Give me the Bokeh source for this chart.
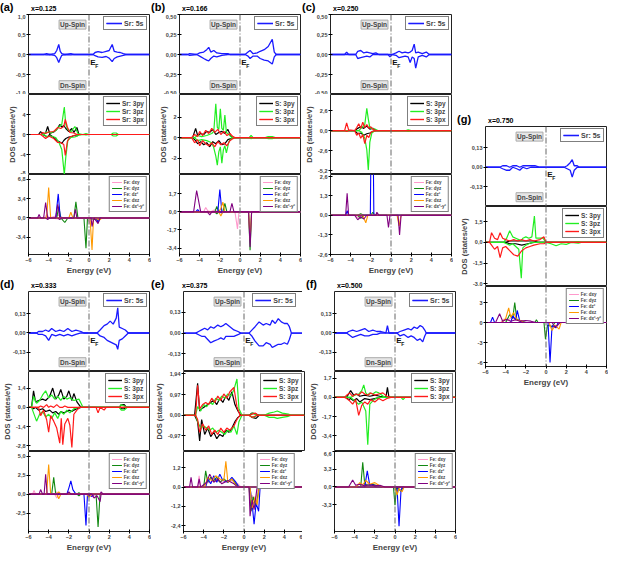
from bokeh.plotting import figure
from bokeh.layouts import column, row, Spacer
from bokeh.models import (Div, Span, Label, Legend, LegendItem, FixedTicker,
                          CustomJSTickFormatter, Range1d)
from bokeh.embed import file_html
from bokeh.resources import INLINE

# ---------------- data: (energy eV, spin-up DOS, spin-down DOS) ----------------
# panel (a) x=0.125
A_SR5S = [(-6,0,0),(-4.5,0,0),(-4.2,0.02,-0.01),(-3.9,0,0),(-3.4,0.02,-0.02),(-3.2,0.1,-0.08),(-3.0,0.25,-0.2),(-2.85,0.08,-0.1),(-2.7,0.02,-0.02),(-2.4,0,0),(-1.8,0.02,-0.01),(-1.5,0,0),(0.4,0,0),(0.6,0.05,-0.03),(0.9,0.07,-0.06),(1.3,0.05,-0.07),(1.7,0.08,-0.05),(2.0,0.1,-0.09),(2.3,0.25,-0.18),(2.5,0.08,-0.1),(2.8,0.06,-0.06),(3.1,0.05,-0.04),(3.4,0.02,-0.02),(3.7,0,0),(6,0,0)]
A_PY = [(-6,0,0),(-5.0,0,0),(-4.8,0.6,0),(-4.6,0,0),(-4.3,0.3,-0.3),(-4.1,1.6,-0.5),(-3.9,0.2,0),(-3.5,0.5,-0.6),(-3.2,1.0,-1.2),(-2.9,2.0,-1.5),(-2.7,1.5,-1.8),(-2.5,1.8,-1.2),(-2.3,1.2,-0.8),(-2.0,0.6,-0.5),(-1.7,1.2,-0.4),(-1.5,0.4,-0.2),(-1.2,1.4,-0.3),(-1.0,0,0),(6,0,0)]
A_PZ = [(-6,0,0),(-4.5,0,0),(-4.2,0.5,-0.4),(-3.8,0.3,-0.3),(-3.3,0.8,-0.6),(-3.0,1.5,-1.5),(-2.7,2.0,-3.0),(-2.45,5.5,-8.0),(-2.3,2.0,-4.5),(-2.1,1.0,-1.2),(-1.8,0.5,-0.6),(-1.4,1.6,-0.5),(-1.1,0.2,-0.2),(-0.6,0,0),(-0.3,0.2,-0.1),(0,0,0),(2.2,0,0),(2.4,0.3,-0.3),(2.7,0.3,-0.3),(2.9,0,0),(6,0,0)]
A_PX = [(-6,0,0),(-4.8,0,0),(-4.6,0.4,-0.3),(-4.3,0.2,-0.8),(-4.0,0.5,-0.3),(-3.5,0.6,-0.8),(-3.1,1.4,-1.6),(-2.8,1.2,-1.6),(-2.5,1.6,-2.0),(-2.35,3.0,-4.2),(-2.15,1.5,-1.4),(-1.9,0.4,-0.5),(-1.5,0.3,-0.2),(-1.2,0,0),(6,0,0)]
A_DXY = [(-6,0,0),(-4.4,0,0),(-4.2,0.6,0),(-3.9,0,0),(-3.0,0.5,-0.2),(-2.6,0,0),(-0.2,0,0),(0.2,0,-1.2),(0.5,0,0),(6,0,0)]
A_DYZ = [(-6,0,0),(-3.2,0,0),(-3.0,2.0,0),(-2.8,0,0),(-2.4,0,-0.8),(-2.1,0,0),(-1.5,0,0),(-1.3,2.8,0),(-1.1,0,0),(-0.5,0,0),(-0.3,0,-5.3),(-0.15,0,0),(0.9,0,-0.4),(1.1,0,0),(6,0,0)]
A_DZ2 = [(-6,0,0),(-3.3,0,0),(-3.05,4.2,0),(-2.85,0,0),(0.7,0,0),(0.9,0,-0.8),(1.1,0,0),(6,0,0)]
A_DXZ = [(-6,0,0),(-4.2,0,0),(-4.0,5.3,0),(-3.8,0,0),(-2.0,0,0),(-1.8,1.0,0),(-1.6,0,0),(0.1,0,0),(0.3,0,-5.6),(0.45,0,0),(1.1,0,-0.3),(1.3,0,0),(6,0,0)]
A_DX2 = [(-6,0,0),(-5.1,0,0),(-4.95,0.6,0),(-4.8,0,0),(-4.5,0,0),(-4.3,2.7,0),(-4.1,0,-0.3),(-3.9,0,0),(-3.3,0,0),(-3.1,2.4,0),(-2.9,0,-0.3),(-2.7,0,0),(-1.5,0,0),(-1.35,1.5,0),(-1.2,0,0),(0.2,0,0),(0.3,0,-1.5),(0.5,0,0),(0.9,0,-1.0),(1.1,0,0),(6,0,0)]

# panel (b) x=0.166
B_SR5S = [(-6,0,0),(-5.2,0,0),(-5.0,0.01,-0.01),(-4.3,0,0),(-4.0,0.02,-0.02),(-3.6,0.03,-0.05),(-3.3,0.06,-0.07),(-3.1,0.09,-0.08),(-2.9,0.03,-0.05),(-2.6,0.05,-0.02),(-2.3,0.02,-0.03),(-1.8,0.01,-0.01),(-1.2,0.01,0),(-1.0,0,0),(0.5,0,0),(0.8,0.03,-0.02),(1.0,0.05,-0.05),(1.3,0.01,-0.02),(1.7,0.02,-0.02),(2.0,0.04,-0.05),(2.4,0.06,-0.07),(2.8,0.1,-0.08),(3.2,0.19,-0.12),(3.4,0.03,-0.03),(3.6,0,0),(6,0,0)]
B_PY = [(-6,0,0),(-4.7,0,0),(-4.4,0.9,-0.3),(-4.2,0.2,-0.6),(-3.9,0.4,-0.4),(-3.6,0.3,-0.7),(-3.3,0.6,-0.5),(-3.0,0.5,-0.9),(-2.7,0.8,-0.4),(-2.4,0.3,-0.6),(-2.1,0.5,-0.3),(-1.8,0.6,-0.7),(-1.5,0.4,-0.6),(-1.2,0.8,-0.2),(-0.9,0.1,-0.1),(-0.6,0,0),(6,0,0)]
B_PZ = [(-6,0,0),(-4.5,0,0),(-4.2,0.2,-0.3),(-3.8,0.1,-0.2),(-3.3,0.2,-0.3),(-2.8,0.4,-0.5),(-2.6,0.6,-1.0),(-2.4,3.3,-1.8),(-2.25,1.0,-2.7),(-2.1,0.8,-1.4),(-1.95,2.8,-0.9),(-1.8,0.9,-2.5),(-1.65,0.7,-1.2),(-1.5,2.2,-0.8),(-1.35,0.5,-1.5),(-1.1,0.3,-0.4),(-0.8,0,0),(0.9,0,0),(1.1,0.2,-0.1),(1.3,0,0),(2.5,0,0),(2.8,0.1,-0.1),(3.2,0.1,-0.1),(3.5,0,0),(6,0,0)]
B_PX = [(-6,0,0),(-4.8,0,0),(-4.5,0.3,-0.5),(-4.2,0.1,-0.2),(-4.0,0.6,-0.8),(-3.7,0.2,-0.3),(-3.4,0.7,-0.6),(-3.1,0.4,-0.8),(-2.8,0.9,-0.5),(-2.5,0.5,-0.9),(-2.2,0.8,-0.4),(-1.9,0.3,-0.7),(-1.6,0.6,-0.5),(-1.3,0.2,-0.8),(-1.0,0.4,-0.3),(-0.7,0.1,-0.1),(-0.5,0,0),(6,0,0)]
B_DXY = [(-6,0,0),(-3.6,0,0),(-3.4,0.4,0),(-3.2,0.1,-0.1),(-2.9,0,0),(-2.5,0.2,0),(-2.2,0,0),(-0.5,0,0),(-0.25,0,-1.6),(-0.1,0,0),(6,0,0)]
B_DYZ = [(-6,0,0),(-2.5,0,0),(-2.3,0.5,-0.2),(-2.1,0,0),(-1.7,0,0),(-1.5,0.8,0),(-1.3,0,0),(0.85,0,0),(1.0,0,-3.6),(1.15,0,0),(6,0,0)]
B_DZ2 = [(-6,0,0),(-4.4,0,0),(-4.2,0.2,0),(-4.0,0,0),(-2.2,0,0),(-2.0,2.1,0),(-1.8,0,-0.1),(-1.6,0,0),(6,0,0)]
B_DXZ = [(-6,0,0),(-2.1,0,0),(-1.9,0.3,-0.4),(-1.7,0.9,0),(-1.5,0,0),(0.85,0,0),(1.0,0,-2.6),(1.15,0,0),(6,0,0)]
B_DX2 = [(-6,0,0),(-4.6,0,0),(-4.3,2.0,0),(-4.1,1.0,0),(-3.9,0,0),(-3.2,0,0),(-3.0,0,-0.3),(-2.8,0,0),(-1.0,0,0),(-0.8,0.8,0),(-0.6,0,0),(0.85,0,0),(1.0,0,-3.3),(1.15,0,0),(6,0,0)]

# panel (c) x=0.250
C_SR5S = [(-6,0,0),(-4.6,0,0),(-4.4,0.03,0),(-4.2,0,0),(-3.5,0,0),(-3.3,0.04,-0.05),(-3.0,0.05,-0.04),(-2.7,0.02,-0.03),(-2.4,0.03,-0.02),(-2.1,0.02,-0.03),(-1.8,0.01,0),(-1.5,0.02,0),(-1.2,0,0),(-0.3,0,0),(-0.1,0,-0.03),(0.1,0,0),(0.5,0.02,-0.01),(0.8,0.04,-0.04),(1.1,0.02,-0.03),(1.4,0.03,-0.02),(1.7,0.02,-0.03),(1.9,0.03,-0.1),(2.1,0.05,-0.03),(2.3,0.13,-0.05),(2.45,0.02,-0.17),(2.7,0.03,-0.03),(3.1,0.01,-0.01),(3.5,0.03,-0.03),(3.8,0,0),(6,0,0)]
C_PY = [(-6,0,0),(-3.6,0,0),(-3.3,0.3,-0.4),(-3.0,0.5,-0.3),(-2.7,0.3,-0.6),(-2.4,0.6,-0.4),(-2.1,0.2,-0.3),(-1.8,0.3,-0.1),(-1.5,0,0),(6,0,0)]
C_PZ = [(-6,0,0),(-3.2,0,0),(-2.9,0.4,-0.2),(-2.6,0.8,-1.0),(-2.4,2.9,-2.5),(-2.25,1.5,-5.1),(-2.1,0.4,-1.5),(-1.9,0.3,-0.3),(-1.6,0.2,0),(-1.3,0,0),(1.5,0,0),(1.7,0.1,-0.1),(2.0,0,0),(6,0,0)]
C_PX = [(-6,0,0),(-4.6,0,0),(-4.4,1.0,-0.1),(-4.2,0.1,0),(-3.6,0,0),(-3.4,0.4,-0.6),(-3.2,0.9,-0.3),(-3.0,0.3,-1.0),(-2.8,1.1,-0.5),(-2.6,0.4,-1.7),(-2.4,0.8,-0.6),(-2.2,0.3,-0.9),(-2.0,0.5,-0.2),(-1.8,0.2,-0.1),(-1.5,0,0),(6,0,0)]
C_DXY = [(-6,0,0),(-3.5,0,0),(-3.2,0,-0.2),(-2.9,0,0),(6,0,0)]
C_DYZ = [(-6,0,0),(-3.3,0,0),(-3.0,0.1,-0.2),(-2.7,0,0),(-2.0,0,0),(-1.8,0.2,0),(-1.6,0,0),(6,0,0)]
C_DZ2 = [(-6,0,0),(-4.5,0,0),(-4.35,0.3,0),(-4.2,0,0),(-2.05,0,0),(-2.0,3.5,0),(-1.75,3.5,0),(-1.7,0,0),(6,0,0)]
C_DXZ = [(-6,0,0),(-2.8,0,0),(-2.5,0,-0.5),(-2.3,0,0),(0.6,0,0),(0.8,0,-0.7),(1.0,0,0),(6,0,0)]
C_DX2 = [(-6,0,0),(-4.5,0,0),(-4.35,1.45,0),(-4.2,0,0),(-3.6,0,0),(-3.3,0,-0.3),(-3.0,0,-0.1),(-2.7,0,-0.25),(-2.4,0,0),(-1.5,0,0),(-1.4,0.2,0),(-1.2,0,0),(-0.4,0,0),(-0.25,0,-0.8),(-0.1,0,0),(0.7,0,0),(0.85,0,-1.3),(1.0,0,0),(6,0,0)]

# panel (d) x=0.333
D_SR5S = [(-6,0,0),(-5.2,0,0),(-5.0,0.01,-0.01),(-4.6,0.01,-0.01),(-4.3,0.02,-0.02),(-4.0,0.01,-0.05),(-3.7,0.03,-0.01),(-3.3,0.01,-0.02),(-2.9,0.02,-0.01),(-2.5,0.01,-0.02),(-2.1,0.03,-0.01),(-1.7,0.01,-0.02),(-1.3,0.02,-0.01),(-0.8,0.01,0),(-0.5,0,0),(0.8,0,0),(1.1,0.02,-0.02),(1.5,0.05,-0.03),(1.8,0.06,-0.05),(2.1,0.08,-0.06),(2.4,0.06,-0.07),(2.7,0.1,-0.08),(2.85,0.17,-0.11),(3.0,0.04,-0.05),(3.3,0.03,-0.04),(3.6,0.02,-0.02),(3.9,0,0),(6,0,0)]
D_PY = [(-6,0,0),(-5.7,0,0),(-5.5,1.2,-0.1),(-5.3,0.4,0),(-5.0,0.5,-0.2),(-4.6,0.6,-0.1),(-4.3,0.5,-0.3),(-3.9,0.8,-0.2),(-3.6,1.4,-0.4),(-3.3,0.6,-0.3),(-3.0,0.9,-0.5),(-2.8,1.3,-0.3),(-2.5,0.6,-0.4),(-2.2,0.8,-0.3),(-2.0,1.2,-0.2),(-1.7,0.5,-0.3),(-1.5,1.0,-0.2),(-1.2,0.4,-0.1),(-0.8,0,0),(3.0,0,0),(3.2,0.2,-0.1),(3.5,0.2,-0.1),(3.7,0,0),(6,0,0)]
D_PZ = [(-6,0,0),(-5.7,0,0),(-5.5,0.8,-0.4),(-5.2,0.3,-1.0),(-4.9,0.5,-0.5),(-4.6,0.9,-0.3),(-4.3,1.2,-0.7),(-4.0,0.7,-0.5),(-3.7,0.9,-0.8),(-3.4,0.6,-0.4),(-3.1,0.8,-0.8),(-2.8,0.5,-0.3),(-2.5,0.8,-0.5),(-2.2,0.6,-0.2),(-1.9,0.7,-0.4),(-1.5,0.5,-0.1),(-1.0,0.6,0),(-0.6,0,0),(3.0,0,0),(3.2,0.2,-0.2),(3.5,0.1,-0.2),(3.8,0,0),(6,0,0)]
D_PX = [(-6,0,0),(-5.0,0,0),(-4.8,0.1,-0.6),(-4.5,0,-0.2),(-4.2,0.2,-0.9),(-4.0,0,-1.8),(-3.8,0.1,-0.6),(-3.5,0,-1.0),(-3.2,0.2,-1.5),(-2.9,0,-2.6),(-2.75,0,-0.8),(-2.6,0,-2.7),(-2.4,0.1,-1.2),(-2.1,0,-0.8),(-1.9,0,-1.3),(-1.7,0,-2.9),(-1.5,0,-0.5),(-1.2,0,-0.2),(-0.9,0,0),(0.7,0,0),(0.9,0,-0.4),(1.1,0,0),(1.5,0,-0.2),(1.7,0,0),(6,0,0)]
D_DXY = [(-6,0,0),(-5.6,0,0),(-5.45,0.5,0),(-5.3,0,0),(-3.4,0,0),(-3.2,0.3,-0.5),(-3.0,0,0),(0.2,0,0),(0.4,0,-0.4),(0.6,0,0),(6,0,0)]
D_DYZ = [(-6,0,0),(-3.7,0,0),(-3.5,2.2,0),(-3.3,0,0),(-1.2,0,0),(-1.0,0.2,-0.2),(-0.8,0,0),(0.7,0,0),(0.9,0,-4.3),(1.1,0,0),(6,0,0)]
D_DZ2 = [(-6,0,0),(-2.2,0,0),(-2.0,0.8,0),(-1.8,1.75,0),(-1.6,0.6,0),(-1.3,0,0),(-0.5,0,0),(-0.3,0,-4.1),(-0.15,0,0),(0.3,0,-0.3),(0.5,0,0),(6,0,0)]
D_DXZ = [(-6,0,0),(-4.2,0,0),(-4.0,3.9,0),(-3.8,0,0),(-3.2,0,0),(-3.0,0.3,-0.6),(-2.8,0,0),(-0.2,0,0),(0.0,0,-0.4),(0.3,0,0),(6,0,0)]
D_DX2 = [(-6,0,0),(-4.95,0,0),(-4.8,0.6,0),(-4.6,0,0),(-4.45,0,0),(-4.3,2.6,0),(-4.15,0,0),(-2.2,0,0),(-2.0,0.3,0),(-1.8,0,0),(0.3,0,0),(0.5,0,-0.5),(0.8,0,-0.2),(1.1,0,-1.0),(1.2,0.3,0),(1.4,0,0),(6,0,0)]

# panel (e) x=0.375
E_SR5S = [(-6,0,0),(-4.8,0,0),(-4.5,0.01,-0.01),(-4.2,0.02,-0.02),(-3.9,0.03,-0.02),(-3.6,0.02,-0.04),(-3.3,0.04,-0.06),(-3.0,0.03,-0.05),(-2.6,0.05,-0.04),(-2.3,0.04,-0.03),(-2.0,0.05,-0.04),(-1.8,0.06,-0.02),(-1.4,0.04,-0.02),(-1.0,0.02,-0.02),(-0.6,0.01,-0.01),(-0.3,0,0),(0.5,0,0),(0.8,0.02,-0.02),(1.1,0.04,-0.05),(1.5,0.07,-0.08),(1.9,0.05,-0.08),(2.2,0.06,-0.06),(2.6,0.05,-0.07),(2.8,0.08,-0.09),(3.1,0.06,-0.08),(3.4,0.09,-0.07),(3.7,0.07,-0.07),(4.0,0.06,-0.06),(4.3,0.06,-0.07),(4.5,0.04,-0.04),(4.7,0,0),(6,0,0)]
E_PY = [(-6,0,0),(-4.9,0,0),(-4.6,1.5,-0.3),(-4.4,0.2,-1.2),(-4.2,0.3,-0.2),(-3.9,0.4,-0.9),(-3.6,0.5,-0.6),(-3.3,0.6,-1.0),(-3.0,0.7,-0.8),(-2.7,0.5,-1.1),(-2.4,0.8,-0.9),(-2.1,0.6,-1.0),(-1.8,0.9,-0.7),(-1.5,0.7,-0.8),(-1.2,1.1,-0.6),(-0.9,0.5,-0.3),(-0.6,0.2,-0.1),(-0.3,0,0),(0.5,0,0),(0.8,0.1,-0.1),(1.2,0.05,-0.15),(1.5,0,0),(6,0,0)]
E_PZ = [(-6,0,0),(-4.8,0,0),(-4.6,0.4,-0.3),(-4.3,0.2,-0.6),(-4.0,0.5,-0.5),(-3.7,0.4,-0.6),(-3.4,0.6,-0.7),(-3.1,0.5,-0.6),(-2.8,0.8,-0.8),(-2.5,0.7,-0.7),(-2.2,0.9,-0.8),(-1.9,0.8,-0.9),(-1.6,1.0,-0.7),(-1.3,0.9,-0.8),(-1.0,1.2,-0.5),(-0.7,1.7,-0.9),(-0.5,0.3,-0.3),(-0.2,0,0),(0.5,0,0),(0.9,0.1,-0.1),(1.3,0,0),(2.0,0,0),(2.5,0.1,-0.1),(3.0,0.15,-0.1),(3.3,0.2,-0.15),(3.8,0.1,-0.1),(4.4,0.05,-0.05),(4.7,0,0),(6,0,0)]
E_PX = [(-6,0,0),(-4.8,0,0),(-4.6,1.4,-0.2),(-4.4,0.3,-0.8),(-4.1,0.5,-0.4),(-3.8,0.6,-0.7),(-3.5,0.5,-0.5),(-3.2,0.8,-0.9),(-2.9,0.6,-0.7),(-2.6,0.9,-0.9),(-2.3,0.7,-0.6),(-2.0,1.0,-0.8),(-1.7,0.8,-0.6),(-1.4,1.1,-0.7),(-1.0,1.3,-0.5),(-0.7,0.4,-0.2),(-0.4,0,0),(0.5,0,0),(0.8,0.05,-0.1),(1.1,0.1,-0.05),(1.4,0,0),(6,0,0)]
E_DXY = [(-6,0,0),(-4.6,0,0),(-4.45,0.7,0),(-4.3,0,0),(-3.5,0.3,0),(-2.8,0.4,0),(-2.0,0.3,0),(-1.2,0.4,0),(-0.6,0.2,0),(-0.3,0,0),(0.5,0,0),(0.6,0,-1.2),(0.8,0,-0.5),(1.1,0,-1.0),(1.4,0,0),(6,0,0)]
E_DYZ = [(-6,0,0),(-4.0,0,0),(-3.8,1.0,0),(-3.6,0.3,0),(-3.3,0.6,0),(-3.0,0.4,0),(-2.7,0.6,0),(-2.4,0.3,0),(-2.0,0.5,0),(-1.6,0.3,0),(-1.2,0.5,0),(-0.8,0.2,0),(-0.5,0,0),(0.5,0,0),(0.7,0,-1.5),(0.9,0,-0.6),(1.2,0,-1.2),(1.5,0,0),(6,0,0)]
E_DZ2 = [(-6,0,0),(-3.8,0,0),(-3.6,0.5,0),(-3.3,0.2,0),(-3.0,0.7,0),(-2.7,0.3,0),(-2.4,0.8,0),(-2.1,0.4,0),(-1.6,0.3,0),(-1.2,0.6,0),(-0.8,0.3,0),(-0.5,0,0),(0.6,0,0),(0.8,0,-1.0),(1.0,0,-2.3),(1.2,0,-1.0),(1.45,0,-1.5),(1.6,0,0),(6,0,0)]
E_DXZ = [(-6,0,0),(-3.9,0,0),(-3.6,0.6,0),(-3.2,0.4,0),(-2.8,0.7,0),(-2.4,0.5,0),(-2.0,0.4,0),(-1.8,1.6,0),(-1.6,0.3,0),(-1.2,0.5,0),(-0.9,0.2,0),(-0.6,0,0),(0.6,0,0),(0.8,0,-1.3),(1.1,0,-0.6),(1.3,0,-1.1),(1.5,0,0),(6,0,0)]
E_DX2 = [(-6,0,0),(-5.4,0,0),(-5.25,0.6,0),(-5.1,0,0),(-4.6,0,0),(-4.45,0.5,0),(-4.3,0,0),(-3.7,0.3,0),(-3.4,0.8,0),(-3.0,0.3,0),(-2.6,0.5,0),(-2.2,0.2,0),(-1.6,0.4,0),(-1.0,0.2,0),(-0.6,0,0),(0.5,0,0),(0.6,0,-1.8),(0.8,0,-0.8),(1.0,0,-1.4),(1.3,0,0),(6,0,0)]

# panel (f) x=0.500
F_SR5S = [(-6,0,0),(-4.8,0,0),(-4.6,0.01,-0.01),(-4.2,0.02,-0.03),(-3.8,0.01,-0.02),(-3.4,0.02,-0.01),(-3.0,0.03,-0.02),(-2.6,0.01,-0.02),(-2.2,0.02,-0.01),(-1.8,0.01,-0.01),(-1.4,0.01,0),(-0.9,0,0),(-0.75,0.05,0),(-0.6,0,0),(0.2,0,0),(0.5,0.01,-0.02),(0.9,0.02,-0.01),(1.3,0.03,-0.03),(1.6,0.02,-0.02),(1.9,0.04,-0.03),(2.2,0.03,-0.05),(2.5,0.05,-0.04),(2.75,0.04,-0.06),(2.95,0.02,-0.02),(3.1,0,0),(6,0,0)]
F_PY = [(-6,0,0),(-4.8,0,0),(-4.6,0.3,-0.2),(-4.4,0.6,-0.1),(-4.1,0.2,-0.3),(-3.8,0.3,-0.1),(-3.5,0.1,-0.4),(-3.0,0.2,-0.1),(-2.5,0.1,-0.2),(-2.0,0.2,-0.1),(-1.5,0.1,0),(-0.9,0,0),(-0.75,0.9,0),(-0.6,0,0),(6,0,0)]
F_PZ = [(-6,0,0),(-4.4,0,0),(-4.0,0.2,-0.3),(-3.6,0.3,-0.6),(-3.3,0.6,-0.4),(-3.1,1.1,-0.8),(-2.9,0.4,-1.2),(-2.7,0.2,-4.2),(-2.5,0.4,-0.6),(-2.2,0.3,-0.3),(-1.9,0.5,-0.1),(-1.6,0.4,0),(-1.3,0.2,0),(-1.0,0,0),(0.6,0,0),(0.8,0,-0.2),(1.0,0,0),(6,0,0)]
F_PX = [(-6,0,0),(-5.0,0,0),(-4.8,0.2,-0.1),(-4.5,0.4,-0.3),(-4.2,0.1,-0.6),(-3.9,0.3,-0.2),(-3.6,0.2,-1.6),(-3.3,0.5,-0.7),(-3.0,0.3,-0.4),(-2.7,0.2,-0.6),(-2.4,0.4,-0.2),(-2.0,0.2,-0.4),(-1.6,0.3,-0.1),(-1.2,0.4,-0.3),(-0.8,0.1,-0.1),(-0.4,0,0),(6,0,0)]
F_DXY = [(-6,0,0),(-4.0,0,0),(-3.7,0.5,0),(-3.3,0.3,0),(-2.8,0.6,0),(-2.3,0.3,0),(-1.8,0.4,0),(-1.3,0,0),(0,0,0),(0.2,0,-0.8),(0.5,0,0),(6,0,0)]
F_DYZ = [(-6,0,0),(-3.4,0,0),(-3.2,4.6,0),(-3.0,0.5,0),(-2.6,0.3,0),(-2.2,0.5,0),(-1.8,0.2,0),(-1.4,0,0),(-0.15,0,0),(0.0,0,-3.4),(0.15,0,0),(0.6,0,-0.8),(0.8,0,0),(6,0,0)]
F_DZ2 = [(-6,0,0),(-3.0,0,0),(-2.75,3.0,0),(-2.5,0.3,0),(-2.2,0.4,0),(-1.9,0,0),(0.2,0,0),(0.4,0,-7.3),(0.6,0,-0.5),(0.8,0,0),(6,0,0)]
F_DXZ = [(-6,0,0),(-3.8,0,0),(-3.5,0.8,0),(-3.2,0.4,0),(-2.9,1.2,0),(-2.5,0.5,0),(-2.0,0.8,0),(-1.6,0.3,0),(-1.2,0,0),(0.0,0,0),(0.2,0,-1.5),(0.4,0,-0.3),(0.7,0,-0.9),(0.9,0,0),(6,0,0)]
F_DX2 = [(-6,0,0),(-4.6,0,0),(-4.2,1.3,0),(-3.9,0.3,0),(-3.5,0.5,0),(-3.0,0.2,0),(-2.5,0.4,0),(-2.0,0.2,0),(-1.5,0.3,0),(-1.0,0,0),(6,0,0)]

# panel (g) x=0.750
G_SR5S = [(-6,0,0),(-4.6,0,0),(-4.3,0.01,-0.01),(-3.9,0.01,-0.02),(-3.6,0,-0.02),(-3.3,0.01,0),(-2.9,0.01,-0.01),(-2.6,0,-0.02),(-2.3,0.01,0),(-1.9,0.01,-0.01),(-1.5,0.01,0),(-1.1,0.01,0),(-0.6,0,0),(1.8,0,0),(2.1,0.01,-0.01),(2.4,0.03,-0.02),(2.6,0.05,-0.065),(2.8,0.01,-0.02),(3.1,0.01,0),(3.3,0,0),(6,0,0)]
G_PY = [(-6,0,0),(-4.0,0,0),(-3.6,0.1,-0.1),(-3.0,0.1,-0.1),(-2.4,0.1,-0.2),(-1.8,0.1,-0.1),(-1.2,0.1,0),(-0.8,0,0),(6,0,0)]
G_PZ = [(-6,0,0),(-4.2,0,0),(-3.9,0.3,-0.1),(-3.6,0.85,-0.2),(-3.3,0.4,-0.1),(-3.0,0.3,-0.3),(-2.7,0.2,-0.5),(-2.45,0.1,-2.6),(-2.3,0.3,-0.4),(-2.0,0.4,-0.2),(-1.7,0.3,-0.1),(-1.4,0.4,0),(-1.15,1.9,0),(-1.0,0.3,0),(-0.6,0.3,0),(-0.3,0.3,0),(0,0,0),(0.5,0,-0.1),(1.0,0,-0.25),(1.5,0,-0.1),(2.0,0,-0.15),(2.5,0,0),(3.2,0.05,-0.05),(3.5,0,0),(6,0,0)]
G_PX = [(-6,0,0),(-5.6,0,0),(-5.4,0.7,-0.2),(-5.1,0.3,-0.5),(-4.8,0.2,-0.3),(-4.55,0.7,-1.1),(-4.3,0.3,-0.4),(-4.0,0.2,-0.3),(-3.6,0.1,-0.6),(-3.2,0.2,-0.9),(-2.8,0.1,-1.0),(-2.4,0.2,-0.6),(-2.0,0.1,-0.4),(-1.6,0.2,-0.3),(-1.2,0.1,-0.2),(-0.6,0.2,-0.1),(-0.2,0.4,-0.1),(0,0,0),(6,0,0)]
G_DXY = [(-6,0,0),(-4.5,0,0),(-4.2,0.5,0),(-3.8,0.3,0),(-3.4,0.8,0),(-3.0,0.4,0),(-2.5,0.3,0),(-2.0,0,0),(0.2,0,0),(0.5,0,-0.6),(1.0,0,-0.8),(1.4,0,0),(6,0,0)]
G_DYZ = [(-6,0,0),(-4.0,0,0),(-3.6,1.2,0),(-3.3,0.6,0),(-3.1,3.0,0),(-2.9,0.5,0),(-2.6,0.3,0),(-2.0,0,0),(-1.1,0,0),(-0.95,0.4,0),(-0.8,0,0),(-0.2,0,0),(-0.05,0,-2.5),(0.15,0,-0.4),(0.6,0,-0.6),(0.9,0,0),(6,0,0)]
G_DZ2 = [(-6,0,0),(-5.5,0,0),(-5.3,0.8,0),(-5.1,0,0),(-3.5,0,0),(-3.3,1.0,0),(-3.0,0.4,0),(-2.85,1.8,0),(-2.6,0.2,0),(-2.3,0,0),(0.2,0,0),(0.4,0,-6.0),(0.6,0,-0.5),(1.0,0,-0.8),(1.2,0,0),(6,0,0)]
G_DXZ = [(-6,0,0),(-4.4,0,0),(-4.0,0.6,0),(-3.7,2.2,0),(-3.5,0.8,0),(-3.2,1.5,0),(-2.9,0.4,0),(-2.5,0.3,0),(-2.2,0,0),(0.3,0,0),(0.6,0,-1.2),(0.9,0,-0.4),(1.3,0,-1.0),(1.5,0,0),(6,0,0)]
G_DX2 = [(-6,0,0),(-5.0,0,0),(-4.6,1.3,0),(-4.3,0.2,0),(-3.9,0.5,0),(-3.5,0.2,0),(-3.0,0.4,0),(-2.6,0.2,0),(-2.0,0.3,0),(-1.5,0.2,0),(-1.0,0,0),(0.6,0,0),(0.9,0,-0.7),(1.2,0,-0.3),(1.4,0,0),(6,0,0)]

# axis ranges / tick values per panel (sub1, sub2, sub3)
X_TICKS = [-6, -4, -2, 0, 2, 4, 6]
A_Y = [(-1.0, 1.0), (-8, 8), (-6.4, 7.6)]
A_T = [[-1, -0.5, 0, 0.5, 1], [-8, -4, 0, 4], [-3.4, 0, 3.4, 6.8]]
B_Y = [(-0.5, 0.5), (-3.6, 4.2), (-4.0, 3.5)]
B_T = [[-0.5, -0.25, 0, 0.25, 0.5], [-2, 0, 2], [-3.4, -1.7, 0, 1.7]]
C_Y = [(-0.5, 0.5), (-5.7, 4.7), (-2.6, 2.7)]
C_T = [[-0.5, -0.25, 0, 0.25, 0.5], [-5.2, -2.6, 0, 2.6], [-2.6, -1.3, 0, 1.3, 2.6]]
D_Y = [(-0.26, 0.28), (-3.2, 2.6), (-4.9, 5.6)]
D_T = [[-0.13, 0, 0.13], [-2.8, -1.4, 0, 1.4], [-2.5, 0, 2.5, 5.0]]
E_Y = [(-0.24, 0.26), (-1.7, 2.05), (-2.75, 2.2)]
E_T = [[-0.13, 0, 0.13], [-0.97, 0, 0.97, 1.94], [-2.4, -1.2, 0, 1.2]]
F_Y = [(-0.26, 0.28), (-4.8, 2.3), (-8.3, 6.6)]
F_T = [[-0.13, 0, 0.13], [-3.4, -1.7, 0, 1.7], [-3.3, 0, 3.3, 6.6]]
G_Y = [(-0.26, 0.27), (-3.2, 2.6), (-6.6, 5.4)]
G_T = [[-0.13, 0, 0.13], [-3.0, -1.5, 0, 1.5], [-6, -3, 0, 3]]

D_LABELS = ["Fe: dxy", "Fe: dyz", "Fe: dz\u00b2", "Fe: dxz", "Fe: dx\u00b2-y\u00b2"]

# ---------------- styling ----------------
FONT = "Liberation Sans"
W, H, L, R, T, B = 121, 80, 28, 2, 14, 22
C_BLUE = "#1a1aff"
P_COLORS = ["#000000", "#22ee22", "#ff1a1a"]
D_COLORS = ["#ff99cc", "#118811", "#0000ff", "#ff9900", "#800080"]


def dec_of(ticks):
    d = 0
    for t in ticks:
        s = repr(float(t)).rstrip("0")
        if "." in s:
            d = max(d, len(s.split(".")[1]))
    return d


def base_fig(yr, ticks, dec, last, ylabel=None):
    p = figure(frame_width=W, frame_height=H, x_range=Range1d(-6, 6),
               y_range=Range1d(*yr), output_backend="svg", toolbar_location=None,
               min_border_left=L, min_border_right=R, min_border_top=0,
               min_border_bottom=(B if last else 0),
               x_axis_location=("below" if last else None))
    p.grid.visible = False
    p.outline_line_color = "#222222"
    p.outline_line_width = 1
    p.background_fill_color = "white"
    p.border_fill_color = "white"
    ya = p.yaxis[0]
    ya.ticker = FixedTicker(ticks=ticks)
    ya.formatter = CustomJSTickFormatter(code="return tick.toFixed(%d).replace('.', ',');" % dec)
    ya.major_label_text_font = FONT
    ya.major_label_text_font_style = "bold"
    ya.major_label_text_font_size = "5.5px"
    ya.major_label_standoff = 1
    ya.major_tick_in = 2
    ya.major_tick_out = 2
    ya.minor_tick_line_color = None
    ya.axis_line_color = None
    if ylabel:
        ya.axis_label = ylabel
        ya.axis_label_text_font = FONT
        ya.axis_label_text_font_style = "bold"
        ya.axis_label_text_font_size = "7.5px"
        ya.axis_label_standoff = 1
    if last:
        xa = p.xaxis[0]
        xa.ticker = FixedTicker(ticks=X_TICKS)
        xa.major_label_text_font = FONT
        xa.major_label_text_font_style = "bold"
        xa.major_label_text_font_size = "5.5px"
        xa.major_label_standoff = 1
        xa.major_tick_in = 2
        xa.major_tick_out = 2
        xa.minor_tick_line_color = None
        xa.axis_line_color = None
        xa.axis_label = "Energy (eV)"
        xa.axis_label_text_font = FONT
        xa.axis_label_text_font_style = "bold"
        xa.axis_label_text_font_size = "8px"
        xa.axis_label_standoff = 1
    p.add_layout(Span(location=0, dimension="height", line_color="#666666",
                      line_dash="6 2 1 2", line_width=1))
    return p


def draw(p, data, color, lw):
    e = [t[0] for t in data]
    up = [t[1] for t in data]
    dn = [t[2] for t in data]
    r1 = p.line(e, up, line_color=color, line_width=lw)
    r2 = p.line(e, dn, line_color=color, line_width=lw)
    return [r1, r2]


def add_legend(p, items, fs, gw, gh):
    lg = Legend(items=items, location="top_right", label_text_font=FONT,
                label_text_font_style="bold", label_text_font_size=fs,
                glyph_width=gw, glyph_height=gh, label_height=gh,
                label_standoff=2, spacing=0, padding=2, margin=2,
                border_line_color="black", border_line_width=1,
                background_fill_alpha=1.0)
    p.add_layout(lg)


def make_panel(letter, xval, y, t, sr5s, pseries, pprefix, dseries):
    div = Div(text=('<div style="position:relative;width:%dpx;height:%dpx;">'
                    '<span style="position:absolute;left:0px;top:1px;font:bold 11px \'%s\';line-height:13px;">(%s)</span>'
                    '<span style="position:absolute;left:%dpx;top:4px;font:bold 7px \'%s\';line-height:9px;">x=%s</span></div>')
              % (L + W + R, T, FONT, letter, L + 3, FONT, xval),
              width=L + W + R, height=T, margin=0)
    # sub 1: Sr 5s
    p1 = base_fig(y[0], t[0], dec_of(t[0]), False)
    r = draw(p1, sr5s, C_BLUE, 1.3)
    add_legend(p1, [LegendItem(label="Sr: 5s", renderers=r)], "7px", 16, 8)
    span = y[0][1] - y[0][0]
    lab_kw = dict(text_font=FONT, text_font_style="bold", text_font_size="6.5px",
                  text_color="#444444", background_fill_color="#e6e6e6",
                  border_line_color="#aaaaaa", text_align="right", padding=1)
    p1.add_layout(Label(x=-0.3, y=y[0][1] - 0.07 * span, text="Up-Spin",
                        text_baseline="top", **lab_kw))
    p1.add_layout(Label(x=-0.3, y=y[0][0] + 0.06 * span, text="Dn-Spin",
                        text_baseline="bottom", **lab_kw))
    p1.add_layout(Label(x=0.12, y=0, y_offset=-3, text="E", text_font=FONT,
                        text_font_style="bold", text_font_size="8px",
                        text_baseline="top", text_color="#111111"))
    p1.add_layout(Label(x=0.12, y=0, x_offset=5, y_offset=-8, text="F",
                        text_font=FONT, text_font_style="bold",
                        text_font_size="5px", text_baseline="top",
                        text_color="#111111"))
    # sub 2: p orbitals
    p2 = base_fig(y[1], t[1], dec_of(t[1]), False, ylabel="DOS (states/eV)")
    items = []
    for data, col, nm in zip(pseries, P_COLORS, ["3py", "3pz", "3px"]):
        items.append(LegendItem(label="%s: %s" % (pprefix, nm),
                                renderers=draw(p2, data, col, 1.2)))
    add_legend(p2, items, "6.5px", 14, 8)
    # sub 3: Fe d orbitals
    p3 = base_fig(y[2], t[2], dec_of(t[2]), True)
    items = []
    for data, col, nm in zip(dseries, D_COLORS, D_LABELS):
        items.append(LegendItem(label=nm, renderers=draw(p3, data, col, 1.1)))
    add_legend(p3, items, "4.5px", 10, 6)
    return column(div, p1, p2, p3, spacing=0)


pa = make_panel("a", "0.125", A_Y, A_T, A_SR5S, [A_PY, A_PZ, A_PX], "Sr",
                [A_DXY, A_DYZ, A_DZ2, A_DXZ, A_DX2])
pb = make_panel("b", "0.166", B_Y, B_T, B_SR5S, [B_PY, B_PZ, B_PX], "S",
                [B_DXY, B_DYZ, B_DZ2, B_DXZ, B_DX2])
pc = make_panel("c", "0.250", C_Y, C_T, C_SR5S, [C_PY, C_PZ, C_PX], "S",
                [C_DXY, C_DYZ, C_DZ2, C_DXZ, C_DX2])
pd = make_panel("d", "0.333", D_Y, D_T, D_SR5S, [D_PY, D_PZ, D_PX], "S",
                [D_DXY, D_DYZ, D_DZ2, D_DXZ, D_DX2])
pe = make_panel("e", "0.375", E_Y, E_T, E_SR5S, [E_PY, E_PZ, E_PX], "S",
                [E_DXY, E_DYZ, E_DZ2, E_DXZ, E_DX2])
pf = make_panel("f", "0.500", F_Y, F_T, F_SR5S, [F_PY, F_PZ, F_PX], "S",
                [F_DXY, F_DYZ, F_DZ2, F_DXZ, F_DX2])
pg = make_panel("g", "0.750", G_Y, G_T, G_SR5S, [G_PY, G_PZ, G_PX], "S",
                [G_DXY, G_DYZ, G_DZ2, G_DXZ, G_DX2])

left = column(row(pa, pb, pc, spacing=0), row(pd, pe, pf, spacing=0), spacing=0)
right = column(Spacer(width=L + W + R, height=112), pg, spacing=0)
root = row(left, right, spacing=0)

open("out.html", "w").write(file_html(root, INLINE, title="DOS"))
